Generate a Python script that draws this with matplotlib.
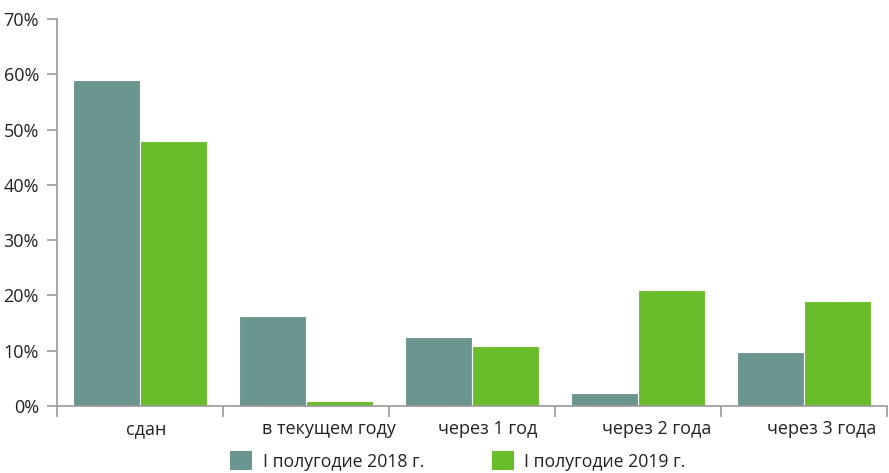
import matplotlib.pyplot as plt
import matplotlib.transforms as mtransforms
import numpy as np
from matplotlib.patches import Patch
from matplotlib.ticker import FuncFormatter

plt.rcParams['font.family'] = ['Open Sans', 'DejaVu Sans']

# data
categories = ["сдан", "в текущем году", "через 1 год", "через 2 года", "через 3 года"]
series_names = ["I полугодие 2018 г.", "I полугодие 2019 г."]
values_2018 = [58.9, 16.3, 12.5, 2.4, 9.8]
values_2019 = [48.0, 0.9, 10.9, 21.0, 19.0]
colors = ["#6b958f", "#6abd2a"]

# the original labels sit a bit right of the category centre
label_shift_px = [6, 23, 16, 19, 18]

fig = plt.figure(figsize=(8.89, 4.73), dpi=100)
ax = fig.add_axes([57 / 889, 1 - 406 / 473, 830 / 889, 387 / 473])

x = np.arange(len(categories))
w = 0.405
ax.bar(x - w / 2, values_2018, w, color=colors[0], edgecolor="white", linewidth=0.8)
ax.bar(x + w / 2, values_2019, w, color=colors[1], edgecolor="white", linewidth=0.8)

ax.set_xlim(-0.5, len(categories) - 0.5)
ax.set_ylim(0, 70)
ax.set_yticks(range(0, 71, 10))
ax.yaxis.set_major_formatter(FuncFormatter(lambda v, p: f"{int(v)}%"))

# category labels centred, ticks on boundaries
ax.set_xticks(np.arange(-0.5, len(categories), 1))
ax.set_xticklabels([])
ax.set_xticks(x, minor=True)
ax.set_xticklabels(categories, minor=True)
ax.tick_params(axis="x", which="minor", length=0, pad=10, labelsize=13, labelcolor="#222222")
ax.tick_params(axis="x", which="major", length=8, color="#999999", width=1.2)
ax.tick_params(axis="y", length=7, color="#999999", width=1.2, labelsize=13,
               labelcolor="#222222", pad=6)

for lbl, dx in zip(ax.get_xticklabels(minor=True), label_shift_px):
    lbl.set_transform(lbl.get_transform() +
                      mtransforms.ScaledTranslation(dx / 100, 0, fig.dpi_scale_trans))

for s in ["top", "right"]:
    ax.spines[s].set_visible(False)
for s in ["left", "bottom"]:
    ax.spines[s].set_color("#999999")
    ax.spines[s].set_linewidth(1.2)

handles = [Patch(facecolor=c, edgecolor="none") for c in colors]
fig.legend(handles, series_names, loc="center", bbox_to_anchor=(458 / 889, 1 - 461 / 473),
           ncol=2, frameon=False, fontsize=12.7, handlelength=1.25, handleheight=1.25,
           columnspacing=3.8, handletextpad=0.62, labelcolor="#222222")

fig.savefig("out.png", dpi=100)
